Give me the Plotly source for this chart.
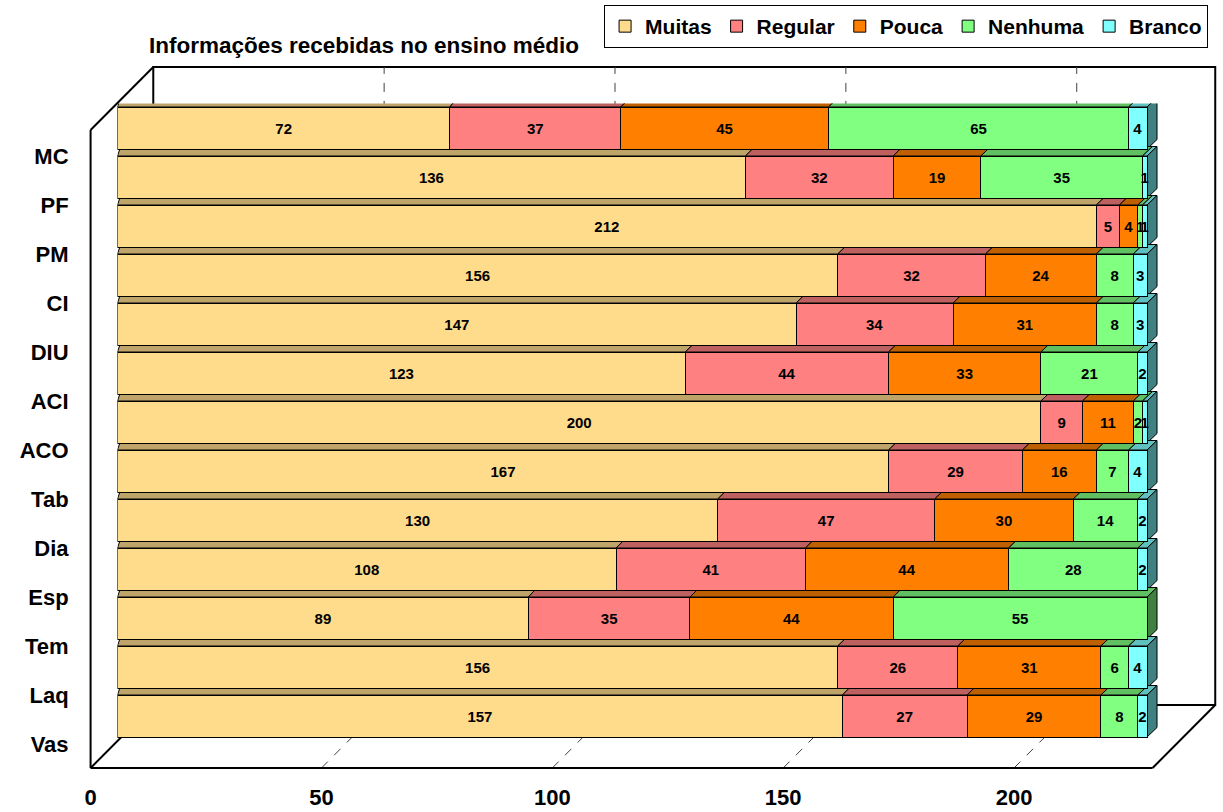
import numpy as np
import plotly.graph_objects as go

# ---- data -------------------------------------------------------------
categories = ["MC", "PF", "PM", "CI", "DIU", "ACI", "ACO",
              "Tab", "Dia", "Esp", "Tem", "Laq", "Vas"]
muitas  = [72, 136, 212, 156, 147, 123, 200, 167, 130, 108, 89, 156, 157]
regular = [37, 32, 5, 32, 34, 44, 9, 29, 47, 41, 35, 26, 27]
pouca   = [45, 19, 4, 24, 31, 33, 11, 16, 30, 44, 44, 31, 29]
nenhuma = [65, 35, 1, 8, 8, 21, 2, 7, 14, 28, 55, 6, 8]
branco  = [4, 1, 1, 3, 3, 2, 1, 4, 2, 2, 0, 4, 2]
series_names = ["Muitas", "Regular", "Pouca", "Nenhuma", "Branco"]
x_ticks = [0, 50, 100, 150, 200]
title_text = "Informações recebidas no ensino médio"

series_values = [muitas, regular, pouca, nenhuma, branco]

# ---- styling ----------------------------------------------------------
W, H = 1223, 812
FONT = "Liberation Sans, Arial, sans-serif"
front_col = ["#FFDB8C", "#FF8080", "#FF8000", "#80FF80", "#80FFFF"]
top_col   = ["#BFA469", "#BF6060", "#BF6000", "#60BF60", "#60BFBF"]
side_col  = ["#807046", "#804040", "#804000", "#408040", "#408080"]

X_MAX = 230          # value range shared by all three depth planes
SCALE = 4.64         # pixels per unit along x
FRONT_X0 = 85        # x pixel of value 0 on the front floor edge
BAR_X0 = 112         # x pixel of value 0 on the bar plane
BACK_X0 = 148        # x pixel of value 0 on the back wall
DEPTH = 63           # pixel offset front -> back (both x and y)
FLOOR_Y = 768        # front floor edge
WALL_TOP = 67        # top of back wall
PITCH = 49           # category pitch in pixels
FIRST_CENTER = 128   # pixel centre of first bar
HALF_BAR = 21        # half bar height in pixels
TOP_DY = 9.5         # height of the 3D top face in pixels


def px(x):
    return x / W


def py(y):
    return 1 - y / H


def depth_dx(v):
    """Horizontal skew (in data units) of the 3D top face at value v."""
    return np.interp(v, [0, 100, 230], [3.3, 9.5, 10.0]) / SCALE


fig = go.Figure()

n = len(categories)
for name, vals, fc in zip(series_names, series_values, front_col):
    fig.add_trace(go.Bar(
        orientation="h", x=vals, y=categories, name=name,
        marker=dict(color=fc, line=dict(color="black", width=1)),
        text=[str(v) if v > 0 else "" for v in vals],
        textposition="inside", insidetextanchor="middle", textangle=0,
        insidetextfont=dict(family=FONT, size=15, color="black", weight="bold"),
        hovertemplate="%{y}: %{x}<extra>" + name + "</extra>",
    ))

# invisible helper trace carrying the category axis drawn at the left wall
fig.add_trace(go.Scatter(
    x=[0] * n, y=categories, xaxis="x2", yaxis="y2", mode="markers",
    marker=dict(opacity=0), showlegend=False, hoverinfo="skip",
))

shapes = []
frame_line = dict(color="black", width=2)

# back wall
shapes.append(dict(type="rect", xref="paper", yref="paper", layer="below",
                   x0=px(BACK_X0), x1=px(BACK_X0 + X_MAX * SCALE),
                   y0=py(FLOOR_Y - DEPTH), y1=py(WALL_TOP),
                   line=frame_line, fillcolor="white"))

# dashed gridlines: floor diagonal + back wall vertical
for t in x_ticks[1:]:
    xf = FRONT_X0 + t * SCALE
    xb = BACK_X0 + t * SCALE
    path = (f"M {px(xf)},{py(FLOOR_Y)} L {px(xb)},{py(FLOOR_Y - DEPTH)} "
            f"L {px(xb)},{py(WALL_TOP)}")
    shapes.append(dict(type="path", xref="paper", yref="paper", layer="below",
                       path=path, line=dict(color="#404040", width=1, dash="dash")))

# left wall and floor outline
left_top = WALL_TOP + DEPTH
x_end_front = FRONT_X0 + X_MAX * SCALE
for (xa, ya, xb_, yb) in [
    (FRONT_X0, left_top, FRONT_X0, FLOOR_Y),
    (FRONT_X0, left_top, BACK_X0, WALL_TOP),
    (FRONT_X0, FLOOR_Y, x_end_front, FLOOR_Y),
    (x_end_front, FLOOR_Y, x_end_front + DEPTH, FLOOR_Y - DEPTH),
    (FRONT_X0, FLOOR_Y, BACK_X0, FLOOR_Y - DEPTH),
]:
    shapes.append(dict(type="line", xref="paper", yref="paper", layer="below",
                       x0=px(xa), y0=py(ya), x1=px(xb_), y1=py(yb), line=frame_line))

# 3D top faces and end caps of the stacked bars
for i, cat in enumerate(categories):
    cum = 0.0
    last_j = None
    for j, vals in enumerate(series_values):
        v = vals[i]
        if v <= 0:
            continue
        a, b = cum, cum + v
        path = (f"M {a},{HALF_BAR} L {b},{HALF_BAR} "
                f"L {b + depth_dx(b)},{HALF_BAR + TOP_DY} "
                f"L {a + depth_dx(a)},{HALF_BAR + TOP_DY} Z")
        shapes.append(dict(type="path", xref="x", yref="y", layer="below",
                           ysizemode="pixel", yanchor=i, path=path,
                           fillcolor=top_col[j], line=dict(color="black", width=1)))
        cum = b
        last_j = j
    e = cum
    de = depth_dx(e)
    path = (f"M {e},{HALF_BAR} L {e + de},{HALF_BAR + TOP_DY} "
            f"L {e + de},{-HALF_BAR + TOP_DY} L {e},{-HALF_BAR} Z")
    shapes.append(dict(type="path", xref="x", yref="y", layer="below",
                       ysizemode="pixel", yanchor=i, path=path,
                       fillcolor=side_col[last_j], line=dict(color="black", width=1)))

bar_top = FIRST_CENTER - PITCH / 2
bar_bottom = FIRST_CENTER + (n - 1) * PITCH + PITCH / 2
label_shift = 28

fig.update_layout(
    width=W, height=H, autosize=False,
    margin=dict(l=0, r=0, t=0, b=0),
    paper_bgcolor="white", plot_bgcolor="rgba(0,0,0,0)",
    barmode="stack", bargap=7 / PITCH,
    uniformtext=dict(minsize=15, mode="show"),
    font=dict(family=FONT, color="black"),
    title=dict(text=f"<b>{title_text}</b>", x=px(364), xanchor="center",
               y=py(45), yanchor="middle", font=dict(size=22.5, family=FONT)),
    xaxis=dict(domain=[px(BAR_X0), px(BAR_X0 + X_MAX * SCALE)], range=[0, X_MAX],
               visible=False, fixedrange=True),
    yaxis=dict(domain=[py(bar_bottom), py(bar_top)], type="category",
               categoryorder="array", categoryarray=categories,
               range=[n - 0.5, -0.5], visible=False),
    xaxis2=dict(domain=[px(FRONT_X0), px(FRONT_X0 + X_MAX * SCALE)], range=[0, X_MAX],
                anchor="free", position=py(FLOOR_Y), tickmode="array",
                tickvals=x_ticks, ticks="", showgrid=False, zeroline=False,
                showline=False, ticklabelstandoff=14,
                tickfont=dict(size=22, family=FONT, weight="bold")),
    yaxis2=dict(domain=[py(bar_bottom + label_shift), py(bar_top + label_shift)],
                type="category", categoryorder="array", categoryarray=categories,
                range=[n - 0.5, -0.5], anchor="free", position=px(FRONT_X0),
                side="left", ticks="", showgrid=False, zeroline=False,
                showline=False, ticklabelstandoff=22,
                tickfont=dict(size=22, family=FONT, weight="bold")),
    legend=dict(orientation="h", x=px(1208), xanchor="right", y=py(5), yanchor="top",
                bgcolor="white", bordercolor="black", borderwidth=1,
                font=dict(size=21, family=FONT, weight="bold"), traceorder="normal"),
    shapes=shapes,
)

fig.write_html("out.html")
